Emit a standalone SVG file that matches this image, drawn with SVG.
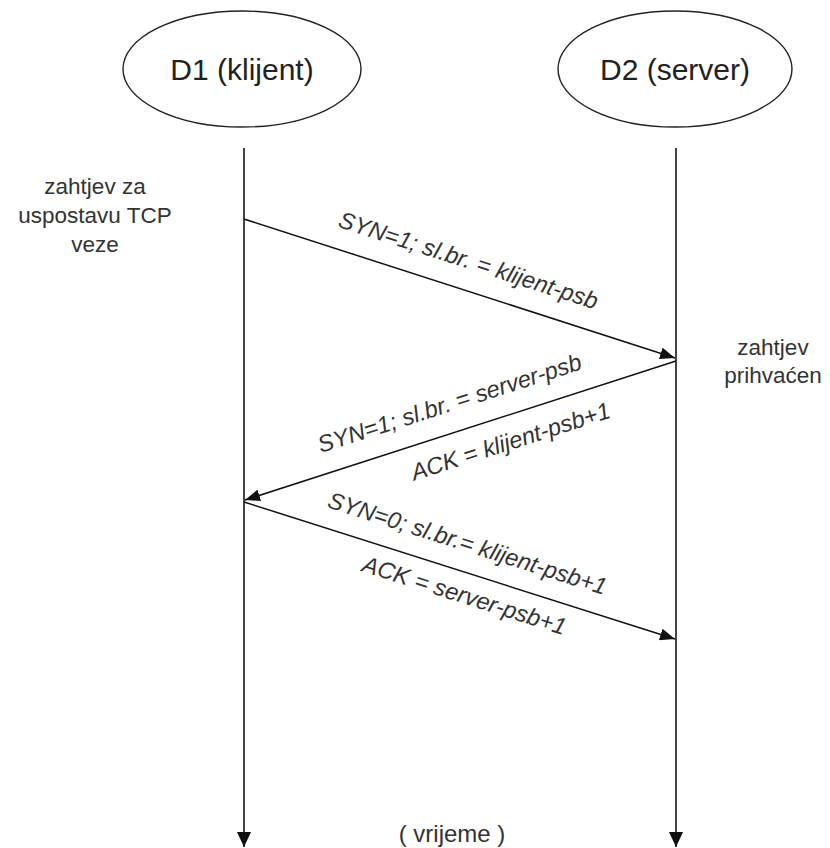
<svg xmlns="http://www.w3.org/2000/svg" width="830" height="848" viewBox="0 0 830 848">
<defs>
<marker id="ah" markerUnits="userSpaceOnUse" markerWidth="16" markerHeight="12" refX="15" refY="6" orient="auto">
<path d="M0,0 L15,6 L0,12 z" fill="#111"/>
</marker>
<marker id="ahl" markerUnits="userSpaceOnUse" markerWidth="16" markerHeight="14" refX="15" refY="7" orient="auto">
<path d="M0,0 L15,7 L0,14 z" fill="#111"/>
</marker>
<style>
.node ellipse{fill:#fff;stroke:#222;stroke-width:1.4}
.nt{font-family:"Liberation Sans",Arial,sans-serif;font-size:30px;fill:#222;text-anchor:middle}
.lt{font-family:"Liberation Sans",Arial,sans-serif;font-size:22.5px;fill:#333;text-anchor:middle}
.mt{font-family:"Liberation Sans",Arial,sans-serif;font-size:23.5px;font-style:italic;fill:#333;text-anchor:middle}
.life{stroke:#444;stroke-width:2;fill:none}
.msg{stroke:#111;stroke-width:1.5;fill:none}
</style>
</defs>
<rect width="830" height="848" fill="#fff"/>
<g id="d1">
<g class="node"><ellipse cx="242" cy="69" rx="119" ry="58"/></g>
<text class="nt" x="242" y="80">D1 (klijent)</text>
</g>
<g id="d2">
<g class="node"><ellipse cx="675" cy="69" rx="117" ry="58"/></g>
<text class="nt" x="675" y="80">D2 (server)</text>
</g>
<g id="connectors">
<line class="life" x1="244" y1="148" x2="244" y2="847" marker-end="url(#ahl)"/>
<line class="life" x1="676" y1="148" x2="676" y2="847" marker-end="url(#ahl)"/>
<line class="msg" x1="244" y1="219" x2="675" y2="358" marker-end="url(#ah)"/>
<line class="msg" x1="676" y1="361" x2="245" y2="500" marker-end="url(#ah)"/>
<line class="msg" x1="244" y1="502" x2="675" y2="639" marker-end="url(#ah)"/>
</g>
<g id="labels">
<text class="lt" x="95" y="194">zahtjev za</text>
<text class="lt" x="95" y="223">uspostavu TCP</text>
<text class="lt" x="95" y="252">veze</text>
<text class="lt" x="773" y="355">zahtjev</text>
<text class="lt" x="773" y="383">prihvaćen</text>
<text class="lt" x="452" y="842" style="font-size:24px">( vrijeme )</text>
<text class="mt" transform="translate(466,268) rotate(17.8)">SYN=1; sl.br. = klijent-psb</text>
<text class="mt" transform="translate(452,411) rotate(-17.8)">SYN=1; sl.br. = server-psb</text>
<text class="mt" transform="translate(513,449) rotate(-17.8)">ACK = klijent-psb+1</text>
<text class="mt" transform="translate(465,551) rotate(17.6)">SYN=0; sl.br.= klijent-psb+1</text>
<text class="mt" transform="translate(462,603) rotate(17.6)">ACK = server-psb+1</text>
</g>
</svg>
